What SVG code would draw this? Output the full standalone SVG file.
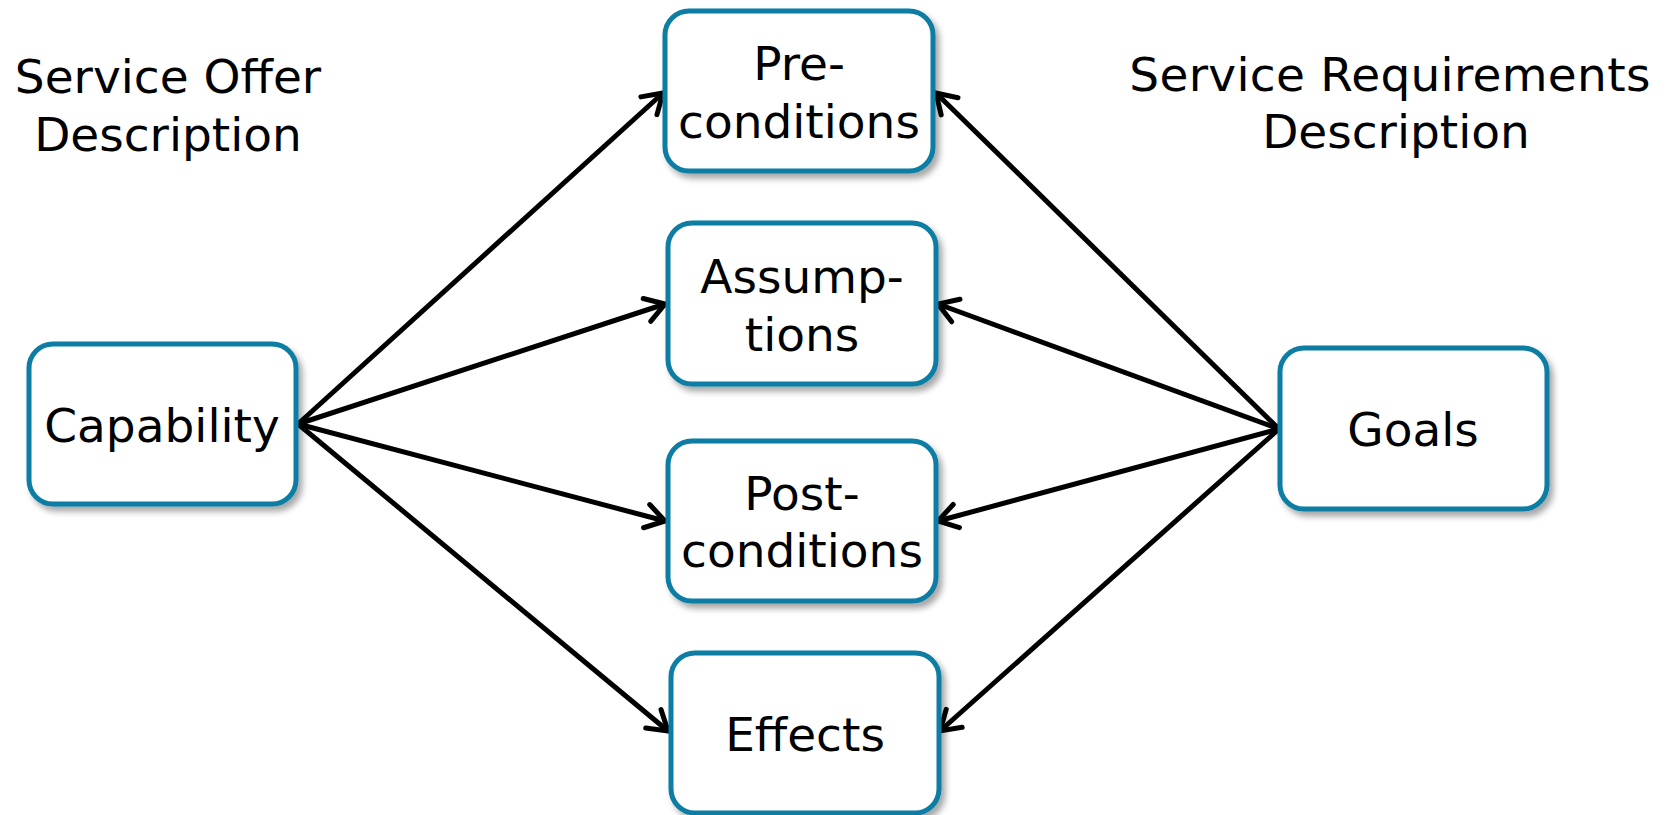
<svg xmlns="http://www.w3.org/2000/svg" width="1673" height="815" viewBox="0 0 1673 815">
<style>
.box{fill:#fff;stroke:#0b7da3;stroke-width:5;filter:url(#sh)}
.t{font-family:"DejaVu Sans",Verdana,sans-serif;font-size:47px;fill:#000;text-anchor:middle}
.w{letter-spacing:0.3px}
.c{stroke:#000;stroke-width:5;fill:none;marker-end:url(#ah)}
</style>
<defs>
<filter id="sh" x="-10%" y="-10%" width="125%" height="130%">
<feDropShadow dx="4" dy="5" stdDeviation="3" flood-color="#000" flood-opacity="0.35"/>
</filter>
<marker id="ah" markerUnits="userSpaceOnUse" markerWidth="40" markerHeight="40" viewBox="-30 -20 40 40" refX="0" refY="0" orient="auto" overflow="visible">
<path d="M-19,-12 L0,0 L-19,12" fill="none" stroke="#000" stroke-width="5" stroke-linecap="round" stroke-linejoin="miter"/>
</marker>
</defs>
<rect width="1673" height="815" fill="#fff"/>
<text class="t" x="168" y="93">Service Offer</text>
<text class="t" x="168" y="151">Description</text>
<text class="t w" x="1390" y="91">Service Requirements</text>
<text class="t" x="1396" y="148">Description</text>
<g id="connectors">
<line class="c" x1="298" y1="424" x2="663" y2="93"/>
<line class="c" x1="298" y1="424" x2="665" y2="304"/>
<line class="c" x1="298" y1="424" x2="665" y2="521"/>
<line class="c" x1="298" y1="424" x2="668" y2="731"/>
<line class="c" x1="1279" y1="429" x2="936" y2="93"/>
<line class="c" x1="1279" y1="429" x2="938" y2="304"/>
<line class="c" x1="1279" y1="429" x2="938" y2="521"/>
<line class="c" x1="1279" y1="429" x2="940" y2="731"/>
</g>
<g id="capability"><rect class="box" x="29" y="344" width="267" height="160" rx="24"/><text class="t" x="162" y="442">Capability</text></g>
<g id="preconditions"><rect class="box" x="665" y="11" width="268" height="160" rx="24"/><text class="t" x="799" y="80">Pre-</text><text class="t" x="799" y="138">conditions</text></g>
<g id="assumptions"><rect class="box" x="668" y="223" width="268" height="161" rx="24"/><text class="t" x="802" y="293">Assump-</text><text class="t" x="802" y="351">tions</text></g>
<g id="postconditions"><rect class="box" x="668" y="441" width="268" height="160" rx="24"/><text class="t" x="802" y="510">Post-</text><text class="t" x="802" y="567">conditions</text></g>
<g id="effects"><rect class="box" x="671" y="653" width="268" height="160" rx="24"/><text class="t" x="805" y="751">Effects</text></g>
<g id="goals"><rect class="box" x="1280" y="348" width="267" height="161" rx="24"/><text class="t" x="1413" y="446">Goals</text></g>
</svg>
